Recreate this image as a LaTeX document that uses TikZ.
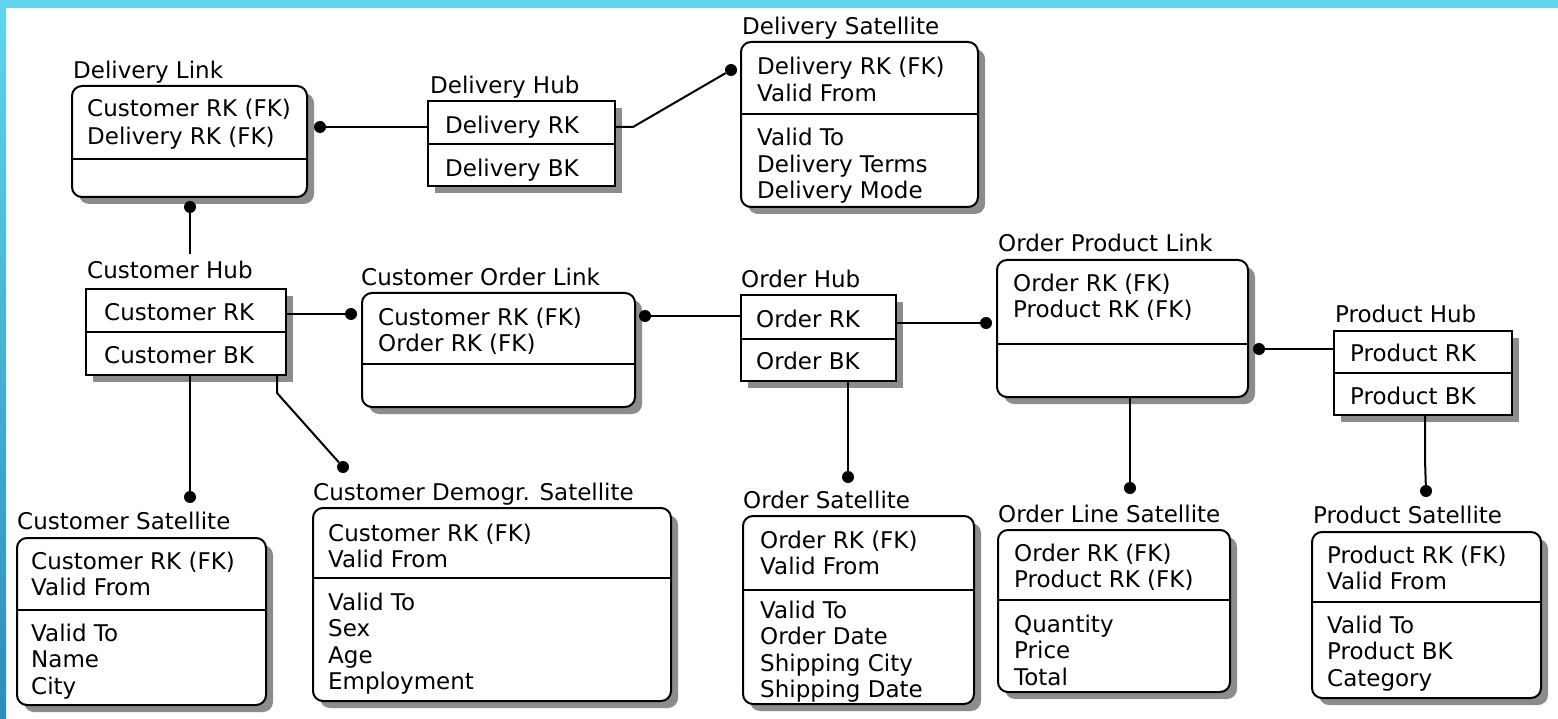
\documentclass[tikz,border=0pt]{standalone}
\usepackage{fontspec}
\setmainfont{DejaVu Sans}
\usetikzlibrary{fit,shadows}
\definecolor{barcyan}{RGB}{98,212,238}
\definecolor{bardeep}{RGB}{44,140,190}
\tikzset{
  ent/.style={draw=black, line width=2pt, fill=white, inner sep=0pt, outer sep=0pt,
    drop shadow={shadow xshift=7pt, shadow yshift=-7pt, fill=black!45, opacity=1}},
  hub/.style={ent},
  sat/.style={ent, rounded corners=10pt},
  ttl/.style={anchor=base west, inner sep=0pt, font=\fontsize{23}{26}\selectfont},
  item/.style={ttl},
  dot/.style={circle, fill=black, inner sep=0pt, minimum size=12pt},
  wire/.style={line width=2pt},
}
% box: name, style, x1, y1, x2, y2, divider y
\newcommand\ebox[7]{%
  \node[#2, fit={(#3,#4) (#5,#6)}] (#1) {};
  \draw[line width=1.8pt] (#3,#7) -- (#5,#7);}
% text rows: name, x, first baseline, list of rows
\newcommand\rows[4]{%
  \foreach \t [count=\i] in {#4} {\node[item] (#1-\i) at (#2, {#3+26.5*(\i-1)}) {\t};}}
\begin{document}
\begin{tikzpicture}[x=1pt,y=-1pt]
\useasboundingbox (0,0) rectangle (1558,719);
\fill[white] (0,0) rectangle (1558,719);
\fill[barcyan] (0,0) rectangle (1558,8);
\shade[top color=barcyan, bottom color=bardeep] (0,0) rectangle (6,719);

% Delivery Link
\node[ttl] (dl-t) at (73,79) {Delivery Link};
\ebox{dl}{sat}{72}{86}{307}{197}{159}
\rows{dlk}{87}{117}{{Customer RK (FK)}}
\rows{dlm}{87}{145}{{Delivery RK (FK)}}

% Delivery Hub
\node[ttl] (dh-t) at (430,94) {Delivery Hub};
\ebox{dh}{hub}{428}{101}{615}{186}{144}
\rows{dhk}{445}{134}{{Delivery RK}}
\rows{dha}{445}{177}{{Delivery BK}}

% Delivery Satellite
\node[ttl] (ds-t) at (742,35) {Delivery Satellite};
\ebox{ds}{sat}{741}{42}{978}{207}{114}
\rows{dsk}{757}{75}{{Delivery RK (FK)},{Valid From}}
\rows{dsa}{757}{146}{{Valid To},{Delivery Terms},{Delivery Mode}}

% Customer Hub
\node[ttl] (ch-t) at (87,279) {Customer Hub};
\ebox{ch}{hub}{86}{289}{286}{375}{332}
\rows{chk}{104}{320}{{Customer RK}}
\rows{cha}{104}{363}{{Customer BK}}

% Customer Order Link
\node[ttl] (col-t) at (361,286) {Customer Order Link};
\ebox{col}{sat}{362}{293}{635}{407}{364}
\rows{colk}{378}{325}{{Customer RK (FK)}}
\rows{colm}{378}{352}{{Order RK (FK)}}

% Order Hub
\node[ttl] (oh-t) at (741,288) {Order Hub};
\ebox{oh}{hub}{741}{295}{896}{381}{339}
\rows{ohk}{756}{327}{{Order RK}}
\rows{oha}{756}{369}{{Order BK}}

% Order Product Link
\node[ttl] (opl-t) at (998,252) {Order Product Link};
\ebox{opl}{sat}{997}{260}{1248}{397}{344}
\rows{oplk}{1013}{291}{{Order RK (FK)},{Product RK (FK)}}

% Product Hub
\node[ttl] (ph-t) at (1335,323) {Product Hub};
\ebox{ph}{hub}{1334}{331}{1512}{415}{373}
\rows{phk}{1350}{361}{{Product RK}}
\rows{pha}{1350}{404}{{Product BK}}

% Customer Satellite
\node[ttl] (cs-t) at (17,529) {Customer Satellite};
\ebox{cs}{sat}{17}{538}{266}{705}{610}
\rows{csk}{31}{569}{{Customer RK (FK)},{Valid From}}
\rows{csa}{31}{641}{{Valid To},{Name},{City}}

% Customer Demographics Satellite
\node[ttl] (cds-t) at (313,500) {Customer Demogr. Satellite};
\ebox{cds}{sat}{313}{508}{671}{701}{578}
\rows{cdsk}{328}{541}{{Customer RK (FK)},{Valid From}}
\rows{cdsa}{328}{610}{{Valid To},{Sex},{Age},{Employment}}

% Order Satellite
\node[ttl] (os-t) at (743,508) {Order Satellite};
\ebox{os}{sat}{743}{516}{974}{704}{590}
\rows{osk}{760}{548}{{Order RK (FK)},{Valid From}}
\rows{osa}{760}{618}{{Valid To},{Order Date},{Shipping City},{Shipping Date}}

% Order Line Satellite
\node[ttl] (ols-t) at (998,522) {Order Line Satellite};
\ebox{ols}{sat}{998}{530}{1230}{692}{600}
\rows{olsk}{1014}{561}{{Order RK (FK)},{Product RK (FK)}}
\rows{olsa}{1014}{632}{{Quantity},{Price},{Total}}

% Product Satellite
\node[ttl] (ps-t) at (1313,523) {Product Satellite};
\ebox{ps}{sat}{1312}{532}{1541}{698}{602}
\rows{psk}{1327}{563}{{Product RK (FK)},{Valid From}}
\rows{psa}{1327}{633}{{Valid To},{Product BK},{Category}}

% relationship ends
\node[dot] (d-dlr) at (320,127) {};
\node[dot] (d-dlb) at (190,207) {};
\node[dot] (d-ds)  at (731,70) {};
\node[dot] (d-coll) at (351,314) {};
\node[dot] (d-colr) at (645,316) {};
\node[dot] (d-oplo) at (986,323) {};
\node[dot] (d-oplr) at (1259,349) {};
\node[dot] (d-cs)  at (190,497) {};
\node[dot] (d-cds) at (343,467) {};
\node[dot] (d-os)  at (848,477) {};
\node[dot] (d-ols) at (1130,488) {};
\node[dot] (d-ps)  at (1426,491) {};
\coordinate (k-dh) at (633,127);
\coordinate (k-ch) at (277,393);
\coordinate (k-dl) at (190,254);
\coordinate (k-ph) at (1425,460);

% connectors
\draw[wire] (d-dlr) -- (dh.west |- d-dlr);
\draw[wire] (dh.east |- k-dh) -- (k-dh) -- (d-ds);
\draw[wire] (d-dlb) -- (k-dl);
\draw[wire] (ch.east |- d-coll) -- (d-coll);
\draw[wire] (d-colr) -- (oh.west |- d-colr);
\draw[wire] (oh.east |- d-oplo) -- (d-oplo);
\draw[wire] (d-oplr) -- (ph.west |- d-oplr);
\draw[wire] (d-cs |- ch.south) -- (d-cs);
\draw[wire] (k-ch |- ch.south) -- (k-ch) -- (d-cds);
\draw[wire] (d-os |- oh.south) -- (d-os);
\draw[wire] (d-ols |- opl.south) -- (d-ols);
\draw[wire] (k-ph |- ph.south) -- (k-ph) -- (d-ps);
\end{tikzpicture}
\end{document}
